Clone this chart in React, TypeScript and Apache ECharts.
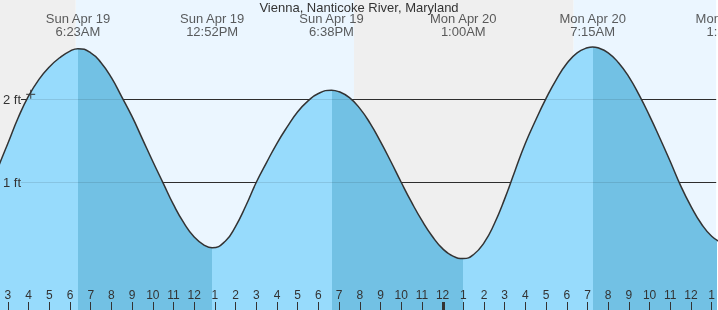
import React, { useEffect, useRef } from 'react';
import * as echarts from 'echarts';

const FONT = '"Liberation Sans", Arial, Helvetica, sans-serif';

const chartTitle = 'Vienna, Nanticoke River, Maryland';

// hours counted from Sun Apr 19 00:00
const tideHours = [2, 2.5, 3, 3.5, 4, 4.5, 5, 5.5, 6, 6.383, 7, 7.5, 8, 8.5, 9, 9.5, 10, 10.5, 11, 11.5, 12, 12.5, 12.867, 13.5, 14, 14.5, 15, 15.5, 16, 16.5, 17, 17.5, 18, 18.633, 19, 19.5, 20, 20.5, 21, 21.5, 22, 22.5, 23, 23.5, 24, 24.5, 25, 25.5, 26, 26.5, 27, 27.5, 28, 28.5, 29, 29.5, 30, 30.5, 31, 31.25, 31.5, 32, 32.5, 33, 33.5, 34, 34.5, 35, 35.5, 36, 36.5, 37, 37.5, 37.83, 38.5];
const tideFeet = [0.82, 1.16, 1.47, 1.78, 2.04, 2.24, 2.39, 2.5, 2.58, 2.61, 2.56, 2.44, 2.26, 2.03, 1.79, 1.52, 1.25, 0.99, 0.73, 0.51, 0.34, 0.24, 0.21, 0.29, 0.47, 0.72, 1.0, 1.24, 1.47, 1.67, 1.85, 1.98, 2.07, 2.11, 2.09, 2.02, 1.89, 1.71, 1.49, 1.25, 1.0, 0.76, 0.54, 0.35, 0.2, 0.11, 0.08, 0.13, 0.27, 0.5, 0.8, 1.14, 1.47, 1.75, 2.01, 2.24, 2.43, 2.56, 2.62, 2.63, 2.62, 2.56, 2.44, 2.27, 2.05, 1.8, 1.53, 1.25, 0.96, 0.71, 0.5, 0.35, 0.27, 0.25, 0.3];

const eventHours = [6.383, 12.867, 18.633, 25, 31.25, 37.83];
const eventDates = ['Sun Apr 19', 'Sun Apr 19', 'Sun Apr 19', 'Mon Apr 20', 'Mon Apr 20', 'Mon Apr 20'];
const eventTimes = ['6:23AM', '12:52PM', '6:38PM', '1:00AM', '7:15AM', '1:50PM'];

const dayPeriods = [[6.28, 19.72], [30.33, 40]];
const nightPeriods = [[0, 6.28], [19.72, 30.33]];

const hourTicks = [3, 4, 5, 6, 7, 8, 9, 10, 11, 12, 13, 14, 15, 16, 17, 18, 19, 20, 21, 22, 23, 24, 25, 26, 27, 28, 29, 30, 31, 32, 33, 34, 35, 36, 37];
const midnightHours = [24];
const feetLabels = [1, 2];
const gridFeet = [1, 2];
const nowPoint = [4.1, 2.06];

const hourMin = 2.617;
const hourMax = 37.219;
const feetMin = -0.539;
const feetMax = 3.196;
const gridLineStart = 3.63;

const LIGHT = '#97dbfc';
const DARK = '#72c1e4';
const DAY = '#ebf6ff';
const NIGHT = '#efefef';
const INK = '#333333';

export default function App() {
  const ref = useRef<HTMLDivElement>(null);
  useEffect(() => {
    if (!ref.current) return;
    const chart = echarts.init(ref.current, undefined, { renderer: 'svg' });
    const tideData = tideHours.map((h, i) => [h, tideFeet[i]]);
    const pieces: any[] = [];
    for (let i = 0; i <= eventHours.length; i++) {
      const p: any = { color: i % 2 === 0 ? LIGHT : DARK };
      if (i > 0) p.gte = eventHours[i - 1];
      if (i < eventHours.length) p.lt = eventHours[i];
      pieces.push(p);
    }
    const bgAreas = [
      ...nightPeriods.map(([a, b]) => [{ xAxis: a, itemStyle: { color: NIGHT } }, { xAxis: b }]),
      ...dayPeriods.map(([a, b]) => [{ xAxis: a, itemStyle: { color: DAY } }, { xAxis: b }]),
    ];
    const gridLines = () => gridFeet.map((f) => [{ coord: [gridLineStart, f] }, { coord: [hourMax, f] }]);
    const option: any = {
      animation: false,
      textStyle: { fontFamily: FONT },
      title: {
        text: chartTitle,
        left: 'center',
        top: 1,
        padding: 0,
        z: 20,
        textStyle: { fontSize: 13, fontWeight: 'normal', color: INK, lineHeight: 13, fontFamily: FONT },
      },
      grid: [
        { left: 0, right: 0, top: 0, bottom: 0 },
        { left: 0, right: 0, top: 0, bottom: 0 },
      ],
      xAxis: [
        {
          type: 'value',
          gridIndex: 0,
          min: hourMin,
          max: hourMax,
          position: 'bottom',
          z: 20,
          axisLine: { show: false, onZero: false },
          splitLine: { show: false },
          axisTick: { show: true, inside: true, length: 8, customValues: hourTicks, lineStyle: { color: INK, width: 1 } },
          axisLabel: {
            inside: true,
            margin: 9,
            customValues: hourTicks,
            formatter: (v: number) => String(Math.round(v) % 12 === 0 ? 12 : Math.round(v) % 12),
            fontSize: 12,
            lineHeight: 12,
            color: INK,
            fontFamily: FONT,
          },
        },
        {
          type: 'value',
          gridIndex: 1,
          min: hourMin,
          max: hourMax,
          position: 'bottom',
          z: 20,
          axisLine: { show: false, onZero: false },
          splitLine: { show: false },
          axisLabel: { show: false, customValues: midnightHours },
          axisTick: { show: true, inside: true, length: 8, customValues: midnightHours, lineStyle: { color: INK, width: 3 } },
        },
      ],
      yAxis: [
        {
          type: 'value',
          gridIndex: 0,
          min: feetMin,
          max: feetMax,
          z: 20,
          axisLine: { show: false, onZero: false },
          axisTick: { show: false },
          splitLine: { show: false },
          axisLabel: {
            inside: true,
            margin: 3,
            customValues: feetLabels,
            formatter: '{value} ft',
            fontSize: 13,
            color: INK,
            fontFamily: FONT,
          },
        },
        {
          type: 'value',
          gridIndex: 1,
          min: feetMin,
          max: feetMax,
          show: false,
        },
      ],
      visualMap: {
        type: 'piecewise',
        show: false,
        dimension: 0,
        seriesIndex: 1,
        pieces,
      },
      series: [
        {
          type: 'line',
          data: [],
          silent: true,
          markArea: { silent: true, z: 0, data: bgAreas },
          markLine: {
            silent: true,
            z: 1,
            symbol: ['none', 'none'],
            label: { show: false },
            lineStyle: { color: INK, width: 1, type: 'solid' },
            data: gridLines(),
          },
        },
        {
          type: 'line',
          data: tideData,
          smooth: 0.5,
          symbol: 'none',
          silent: true,
          z: 2,
          lineStyle: { width: 0, opacity: 0 },
          areaStyle: { origin: 'start', opacity: 1 },
        },
        {
          type: 'line',
          data: [],
          silent: true,
          markLine: {
            silent: true,
            z: 3,
            symbol: ['none', 'none'],
            label: { show: false },
            lineStyle: { color: 'rgba(0,0,0,0.1)', width: 1, type: 'solid' },
            data: gridLines(),
          },
        },
        {
          type: 'line',
          data: tideData,
          smooth: 0.5,
          symbol: 'none',
          silent: true,
          z: 4,
          lineStyle: { color: INK, width: 1.5 },
        },
        {
          type: 'scatter',
          data: eventHours.map((h) => [h, feetMax]),
          symbolSize: 1,
          clip: false,
          silent: true,
          z: 5,
          itemStyle: { color: 'rgba(0,0,0,0)' },
          label: {
            show: true,
            position: 'bottom',
            distance: 12,
            align: 'center',
            fontSize: 13,
            lineHeight: 12.5,
            color: INK,
            fontFamily: FONT,
            formatter: (p: any) => eventDates[p.dataIndex] + '\n' + eventTimes[p.dataIndex],
          },
        },
        {
          type: 'scatter',
          data: [nowPoint],
          symbol: 'path://M5,0L5,10M0,5L10,5',
          symbolSize: 9,
          silent: true,
          z: 6,
          itemStyle: { color: 'none', borderColor: INK, borderWidth: 1.2 },
        },
      ],
    };
    chart.setOption(option);
    return () => chart.dispose();
  }, []);
  return <div ref={ref} style={{ position: 'fixed', left: 0, top: 0, width: 718, height: 310 }} />;
}
